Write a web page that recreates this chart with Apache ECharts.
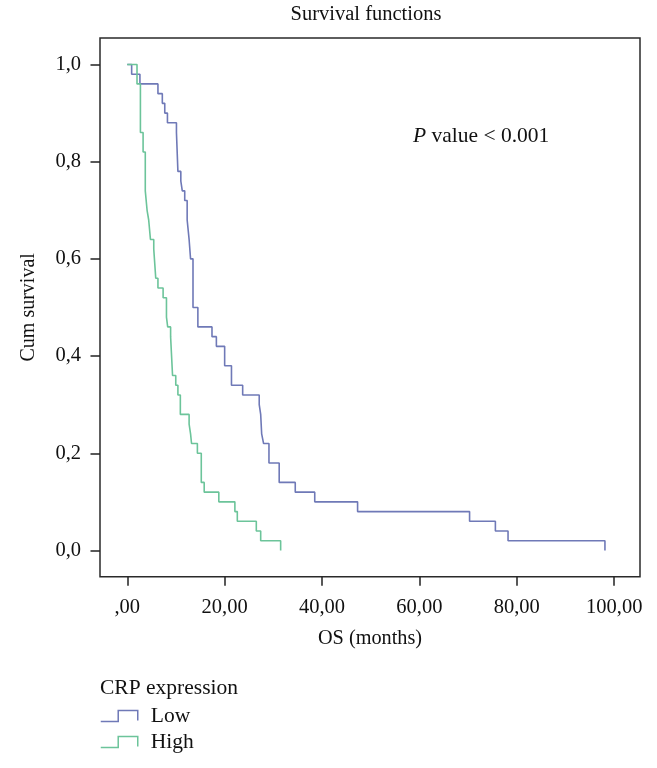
<!DOCTYPE html>
<html>
<head>
<meta charset="utf-8">
<script src="https://cdn.jsdelivr.net/npm/echarts@6/dist/echarts.min.js"></script>
<style>
html,body{margin:0;padding:0;background:#fff;}
#chart{width:657px;height:768px;}
</style>
</head>
<body>
<div id="chart"></div>
<script>
// ---- data (time in months, cumulative survival) ----
var lowTimes = [0, 0.9, 2.6, 6.3, 7.2, 7.7, 8.25, 10.1, 10.4, 11.0, 11.3, 11.8, 12.3, 12.7, 13.0, 13.5, 14.5, 17.4, 18.3, 20.0, 21.4, 23.7, 27.1, 27.4, 27.6, 28.0, 29.1, 31.2, 34.5, 38.5, 47.3, 70.3, 75.6, 78.2, 98.1];
var lowSurv  = [1.0, 0.98, 0.96, 0.94, 0.92, 0.90, 0.88, 0.86, 0.78, 0.76, 0.74, 0.72, 0.68, 0.64, 0.60, 0.50, 0.46, 0.44, 0.42, 0.38, 0.34, 0.32, 0.30, 0.28, 0.24, 0.22, 0.18, 0.14, 0.12, 0.10, 0.08, 0.06, 0.04, 0.02, 0.0];
var highTimes = [0, 2.0, 2.7, 3.25, 3.7, 4.07, 4.4, 4.76, 5.44, 5.85, 6.3, 7.36, 8.05, 8.3, 8.9, 9.3, 9.96, 10.4, 10.9, 12.7, 13.0, 13.2, 14.4, 15.2, 15.8, 18.8, 22.1, 22.6, 26.5, 27.4, 31.5];
var highSurv  = [1.0, 0.96, 0.86, 0.82, 0.74, 0.70, 0.68, 0.64, 0.62, 0.56, 0.54, 0.52, 0.48, 0.46, 0.44, 0.36, 0.34, 0.32, 0.28, 0.26, 0.24, 0.22, 0.20, 0.14, 0.12, 0.10, 0.08, 0.06, 0.04, 0.02, 0.0];

var seriesNames = ['Low', 'High'];
var xTickValues = [0, 20, 40, 60, 80, 100];
var xTickLabels = [',00', '20,00', '40,00', '60,00', '80,00', '100,00'];
var yTickValues = [0, 0.2, 0.4, 0.6, 0.8, 1.0];
var yTickLabels = ['0,0', '0,2', '0,4', '0,6', '0,8', '1,0'];

var titleText = 'Survival functions';
var xName = 'OS (months)';
var yName = 'Cum survival';
var legendTitle = 'CRP expression';

function pairs(xs, ys) { return xs.map(function (x, i) { return [x, ys[i]]; }); }
function lookup(vals, labels) {
  return function (v) {
    var best = 0;
    for (var i = 1; i < vals.length; i++) if (Math.abs(vals[i] - v) < Math.abs(vals[best] - v)) best = i;
    return labels[best];
  };
}

var FONT = '"Liberation Serif", "DejaVu Serif", serif';
var BLUE = '#6f79b7';
var GREEN = '#6cc49a';
var colors = [BLUE, GREEN];

var chart = echarts.init(document.getElementById('chart'), null, {renderer: 'canvas'});
chart.setOption({
  backgroundColor: '#ffffff',
  animation: false,
  textStyle: {fontFamily: FONT, color: '#111'},
  grid: {
    left: 100, right: 17, top: 38, bottom: 191.3,
    show: true, borderColor: '#2a2a2a', borderWidth: 1.5,
    backgroundColor: '#ffffff',
    containLabel: false, outerBoundsMode: 'none'
  },
  graphic: [
    {type: 'text', x: 366, y: 15, z: 10,
     style: {text: titleText, align: 'center', verticalAlign: 'middle',
       fontFamily: FONT, fontSize: 20.5, fill: '#111'}},
    {type: 'text', x: 413, y: 136, z: 10,
     style: {
       text: '{i|P} value < 0.001', verticalAlign: 'middle',
       rich: {i: {fontStyle: 'italic', fontFamily: FONT, fontSize: 21.5, fill: '#111'}},
       fontFamily: FONT, fontSize: 21.5, fill: '#111'
     }},
    {type: 'text', x: 100, y: 688, z: 10,
     style: {text: legendTitle, verticalAlign: 'middle', fontFamily: FONT, fontSize: 21.5, fill: '#111'}}
  ],
  legend: {
    orient: 'vertical',
    left: 100, top: 705,
    padding: 0,
    itemGap: 4,
    itemWidth: 37, itemHeight: 11,
    symbolKeepAspect: false,
    icon: 'path://M0,11 L17,11 L17,0 L36,0 L36,10',
    textStyle: {fontFamily: FONT, fontSize: 21.5, color: '#111', padding: [0, 0, 0, 8]},
    data: seriesNames.map(function (n, i) {
      return {name: n, itemStyle: {color: 'rgba(0,0,0,0)', borderColor: colors[i], borderWidth: 1.5}};
    })
  },
  xAxis: {
    type: 'value', min: -5.6, max: 105.3,
    name: xName, nameLocation: 'middle', nameGap: 52,
    nameTextStyle: {fontFamily: FONT, fontSize: 20.3, color: '#111'},
    axisLine: {show: false, onZero: false},
    splitLine: {show: false},
    axisTick: {show: true, inside: false, length: 9, customValues: xTickValues, lineStyle: {color: '#222', width: 1.5}},
    axisLabel: {customValues: xTickValues, formatter: lookup(xTickValues, xTickLabels), margin: 20,
      fontFamily: FONT, fontSize: 20.5, color: '#111'}
  },
  yAxis: {
    type: 'value', min: -0.054, max: 1.0545,
    name: yName, nameLocation: 'middle', nameGap: 61, nameRotate: 90,
    nameTextStyle: {fontFamily: FONT, fontSize: 20, color: '#111'},
    axisLine: {show: false, onZero: false},
    splitLine: {show: false},
    axisTick: {show: true, inside: false, length: 9.5, customValues: yTickValues, lineStyle: {color: '#222', width: 1.5}},
    axisLabel: {customValues: yTickValues, formatter: lookup(yTickValues, yTickLabels), margin: 19,
      fontFamily: FONT, fontSize: 20.5, color: '#111'}
  },
  series: [
    {name: seriesNames[0], type: 'line', step: 'end', showSymbol: false, symbol: 'none',
     data: pairs(lowTimes, lowSurv), color: BLUE,
     lineStyle: {color: BLUE, width: 1.6}, z: 3},
    {name: seriesNames[1], type: 'line', step: 'end', showSymbol: false, symbol: 'none',
     data: pairs(highTimes, highSurv), color: GREEN,
     lineStyle: {color: GREEN, width: 1.6}, z: 4}
  ]
});
</script>
</body>
</html>
